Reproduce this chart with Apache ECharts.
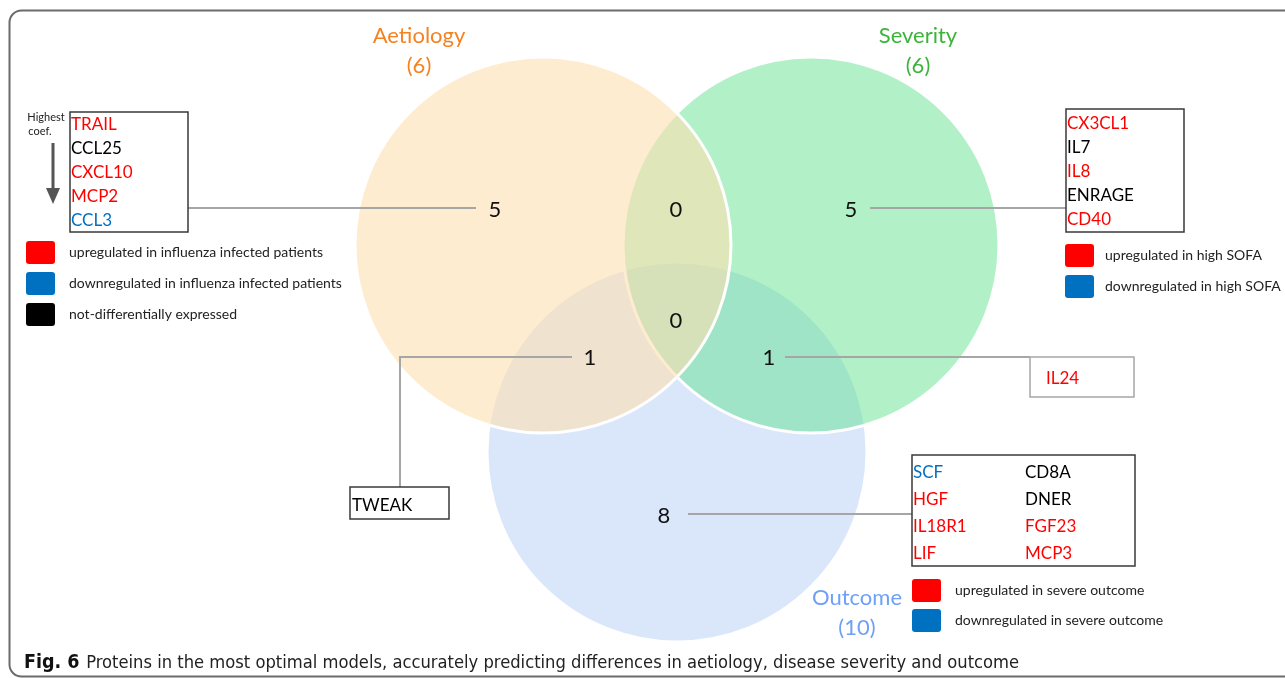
<!DOCTYPE html>
<html>
<head>
<meta charset="utf-8">
<script src="https://cdn.jsdelivr.net/npm/echarts@6/dist/echarts.min.js"></script>
<style>
html, body { margin: 0; padding: 0; background: #fff; }
#chart { width: 1285px; height: 678px; }
</style>
</head>
<body>
<div id="chart"></div>
<script>
// ---- data ----
var setNames = ["Aetiology", "Severity", "Outcome"];
var setTotals = [6, 6, 10];

// region counts: A only, A∩S, S only, A∩S∩O, A∩O, S∩O, O only
var regionKeys = ["A", "AS", "S", "ASO", "AO", "SO", "O"];
var regionCounts = [5, 0, 5, 0, 1, 1, 8];

// proteins and direction (up / down / ns)
var aetiologyProteins = ["TRAIL", "CCL25", "CXCL10", "MCP2", "CCL3"];
var aetiologyReg = ["up", "ns", "up", "up", "down"];
var severityProteins = ["CX3CL1", "IL7", "IL8", "ENRAGE", "CD40"];
var severityReg = ["up", "ns", "up", "ns", "up"];
var aetOutProteins = ["TWEAK"];
var aetOutReg = ["ns"];
var sevOutProteins = ["IL24"];
var sevOutReg = ["up"];
var outcomeProteins = ["SCF", "HGF", "IL18R1", "LIF", "CD8A", "DNER", "FGF23", "MCP3"];
var outcomeReg = ["down", "up", "up", "up", "ns", "ns", "up", "up"];

var legendAetiology = ["upregulated in influenza infected patients", "downregulated in influenza infected patients", "not-differentially expressed"];
var legendSeverity = ["upregulated in high SOFA", "downregulated in high SOFA"];
var legendOutcome = ["upregulated in severe outcome", "downregulated in severe outcome"];
var caption = "Proteins in the most optimal models, accurately predicting differences in aetiology, disease severity and outcome";

// ---- layout (pixel units of the hidden axes) ----
var circleLayout = [[543, 245, 188], [811, 245, 188], [677, 452, 190]];
var circleFill = ["rgba(253,223,177,0.6)", "rgba(101,225,145,0.5)", "rgba(181,207,247,0.5)"];
var titleColor = ["#f5821f", "#3cb43c", "#6fa0f8"];
var titlePos = [[419, 36], [918, 36], [857, 598]];
var regionPos = [[495, 210], [676, 210], [851, 210], [676, 321], [590, 358], [769, 358], [664, 516]];
var regColor = { up: "#ff0000", down: "#0070c0", ns: "#000000" };
var FONT = "Lato, 'Open Sans', sans-serif";
var CAPFONT = "'Liberation Sans Narrow', 'DejaVu Sans Condensed', sans-serif";

var chart = echarts.init(document.getElementById("chart"));

var circleData = [2, 1, 0].map(function (i) {
    return [circleLayout[i][0], circleLayout[i][1], circleLayout[i][2], i];
});
var countData = regionCounts.map(function (c, i) {
    return [regionPos[i][0], regionPos[i][1], c];
});

function listText(x, y, names, regs, step) {
    return names.map(function (n, i) {
        return {
            type: "text", x: x, y: y + i * step, z: 20,
            style: { text: n, fill: regColor[regs[i]], font: "17px " + FONT, verticalAlign: "middle" }
        };
    });
}
function box(x, y, w, h, stroke) {
    return {
        type: "rect", z: 15, shape: { x: x, y: y, width: w, height: h },
        style: { fill: "#fff", stroke: stroke || "#3a3a3a", lineWidth: 1.5 }
    };
}
function legend(x, y, labels, colors, step, tx) {
    var out = [];
    labels.forEach(function (l, i) {
        out.push({
            type: "rect", z: 15, shape: { x: x, y: y + i * step - 11, width: 29, height: 23, r: 3 },
            style: { fill: colors[i] }
        });
        out.push({
            type: "text", x: tx, y: y + i * step, z: 15,
            style: { text: l, fill: "#222", font: "14px " + FONT, verticalAlign: "middle" }
        });
    });
    return out;
}
function line(points) {
    return {
        type: "polyline", z: 12, shape: { points: points },
        style: { stroke: "#a6a6a6", lineWidth: 2, fill: null }
    };
}

var graphics = [
    // frame
    { type: "rect", shape: { x: 9.5, y: 10.5, width: 1290, height: 666, r: 12 },
      style: { fill: null, stroke: "#6b6b6b", lineWidth: 2 }, z: 100 },
    // connectors
    line([[188, 208], [476, 208]]),
    line([[870, 208], [1066, 208]]),
    line([[572, 357], [400, 357], [400, 487]]),
    line([[785, 357], [1030, 357]]),
    line([[688, 514], [912, 514]]),
    // boxes
    box(70, 112, 118, 120),
    box(1066, 109, 118, 123),
    box(350, 487, 99, 32),
    box(1030, 357, 104, 40, "#a6a6a6"),
    box(912, 455, 223, 111),
    // highest coef arrow
    { type: "text", x: 46, y: 117, z: 15, style: { text: "Highest", fill: "#222", font: "11px " + FONT, align: "center", verticalAlign: "middle" } },
    { type: "text", x: 40, y: 131, z: 15, style: { text: "coef.", fill: "#222", font: "11px " + FONT, align: "center", verticalAlign: "middle" } },
    { type: "line", z: 15, shape: { x1: 53, y1: 143, x2: 53, y2: 190 }, style: { stroke: "#555", lineWidth: 3 } },
    { type: "polygon", z: 15, shape: { points: [[46, 188], [60, 188], [53, 204]] }, style: { fill: "#555" } },
    // caption
    { type: "text", x: 24, y: 663, z: 15, style: {
        text: "{b|Fig. 6}  {n|" + caption + "}", verticalAlign: "middle",
        rich: {
            b: { fontFamily: CAPFONT, fontWeight: "bold", fontSize: 19.5, fill: "#111" },
            n: { fontFamily: CAPFONT, fontSize: 18.2, fill: "#222" }
        } } }
];

graphics = graphics
    .concat(listText(71, 125, aetiologyProteins, aetiologyReg, 24))
    .concat(listText(1067, 124, severityProteins, severityReg, 24))
    .concat(listText(352, 506, aetOutProteins, aetOutReg, 24))
    .concat(listText(1046, 379, sevOutProteins, sevOutReg, 24))
    .concat(listText(913, 473, outcomeProteins.slice(0, 4), outcomeReg.slice(0, 4), 26.7))
    .concat(listText(1025, 473, outcomeProteins.slice(4), outcomeReg.slice(4), 26.7))
    .concat(legend(26, 252, legendAetiology, [regColor.up, regColor.down, regColor.ns], 31, 69))
    .concat(legend(1065, 255, legendSeverity, [regColor.up, regColor.down], 31, 1105))
    .concat(legend(912, 590, legendOutcome, [regColor.up, regColor.down], 30, 955));

setNames.forEach(function (n, i) {
    graphics.push({
        type: "text", x: titlePos[i][0], y: titlePos[i][1] + 15, z: 15,
        style: { text: n + "\n(" + setTotals[i] + ")", fill: titleColor[i], font: "22px " + FONT,
                 align: "center", verticalAlign: "middle", lineHeight: 30 }
    });
});

var option = {
    animation: false,
    grid: { left: 0, right: 0, top: 0, bottom: 0 },
    xAxis: { type: "value", min: 0, max: 1285, show: false },
    yAxis: { type: "value", min: 0, max: 678, inverse: true, show: false },
    series: [
        {
            type: "custom",
            data: circleData,
            z: 1,
            renderItem: function (params, api) {
                var c = api.coord([api.value(0), api.value(1)]);
                var r = api.size([api.value(2), 0])[0];
                return {
                    type: "circle",
                    shape: { cx: c[0], cy: c[1], r: r },
                    style: { fill: circleFill[api.value(3)], stroke: "#fff", lineWidth: 3 }
                };
            },
            silent: true
        },
        {
            type: "custom",
            data: countData,
            z: 30,
            renderItem: function (params, api) {
                var c = api.coord([api.value(0), api.value(1)]);
                return {
                    type: "text", x: c[0], y: c[1],
                    style: { text: String(api.value(2)), fill: "#111", font: "22px " + FONT,
                             align: "center", verticalAlign: "middle" }
                };
            },
            silent: true
        }
    ],
    graphic: graphics
};
chart.setOption(option);
</script>
</body>
</html>
